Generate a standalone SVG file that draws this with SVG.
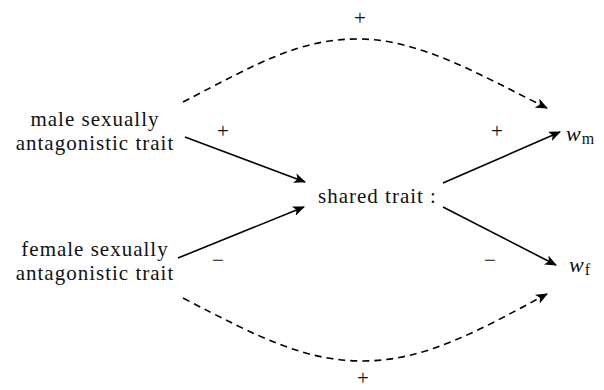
<svg xmlns="http://www.w3.org/2000/svg" width="604" height="390" viewBox="0 0 604 390">
<defs>
<style>
text{font-family:"Liberation Serif","Times New Roman",serif;fill:#111;}
.lbl{font-size:21px;letter-spacing:1px;text-anchor:middle;}
.sign{font-size:21px;text-anchor:middle;}
.var{font-size:22px;font-style:italic;letter-spacing:1px;}
.sub{font-size:16px;font-style:normal;letter-spacing:0;}
.edge{fill:none;stroke:#000;stroke-width:1.6;}
.dash{stroke-dasharray:7 5;}
</style>
<marker id="ah" viewBox="0 0 12 10" refX="11" refY="5" markerWidth="12" markerHeight="10" markerUnits="userSpaceOnUse" orient="auto">
<path d="M0,0 L12,5 L0,10 L3,5 Z" fill="#000"/>
</marker>
</defs>
<rect width="604" height="390" fill="#fff"/>
<g id="connectors">
<path class="edge" d="M185,137 L305,182" marker-end="url(#ah)"/>
<path class="edge" d="M178,258 L304,207" marker-end="url(#ah)"/>
<path class="edge" d="M443,183 L560,132" marker-end="url(#ah)"/>
<path class="edge" d="M443,207 L556,265" marker-end="url(#ah)"/>
<path class="edge dash" d="M183,102 C260,62 300,39 358,39 C420,39 480,75 547,108" marker-end="url(#ah)"/>
<path class="edge dash" d="M183,298 C260,338 305,361 363,361 C425,361 480,330 547,294" marker-end="url(#ah)"/>
</g>
<g id="signs">
<text class="sign" x="360" y="25">+</text>
<text class="sign" x="223" y="138">+</text>
<text class="sign" x="497" y="138">+</text>
<text class="sign" x="218" y="267">−</text>
<text class="sign" x="490" y="267">−</text>
<text class="sign" x="363" y="385">+</text>
</g>
<g id="node-male">
<text class="lbl" x="95" y="126">male sexually</text>
<text class="lbl" x="95" y="150">antagonistic trait</text>
</g>
<g id="node-female">
<text class="lbl" x="95" y="256">female sexually</text>
<text class="lbl" x="95" y="280">antagonistic trait</text>
</g>
<g id="node-shared">
<text x="318" y="203" font-size="21" letter-spacing="1">shared trait</text>
<text x="430" y="203" font-size="21" fill="#bbb">:</text>
</g>
<g id="node-wm">
<text class="var" x="566" y="141">w<tspan class="sub" dy="3">m</tspan></text>
</g>
<g id="node-wf">
<text class="var" x="569" y="272">w<tspan class="sub" dy="3">f</tspan></text>
</g>
</svg>
